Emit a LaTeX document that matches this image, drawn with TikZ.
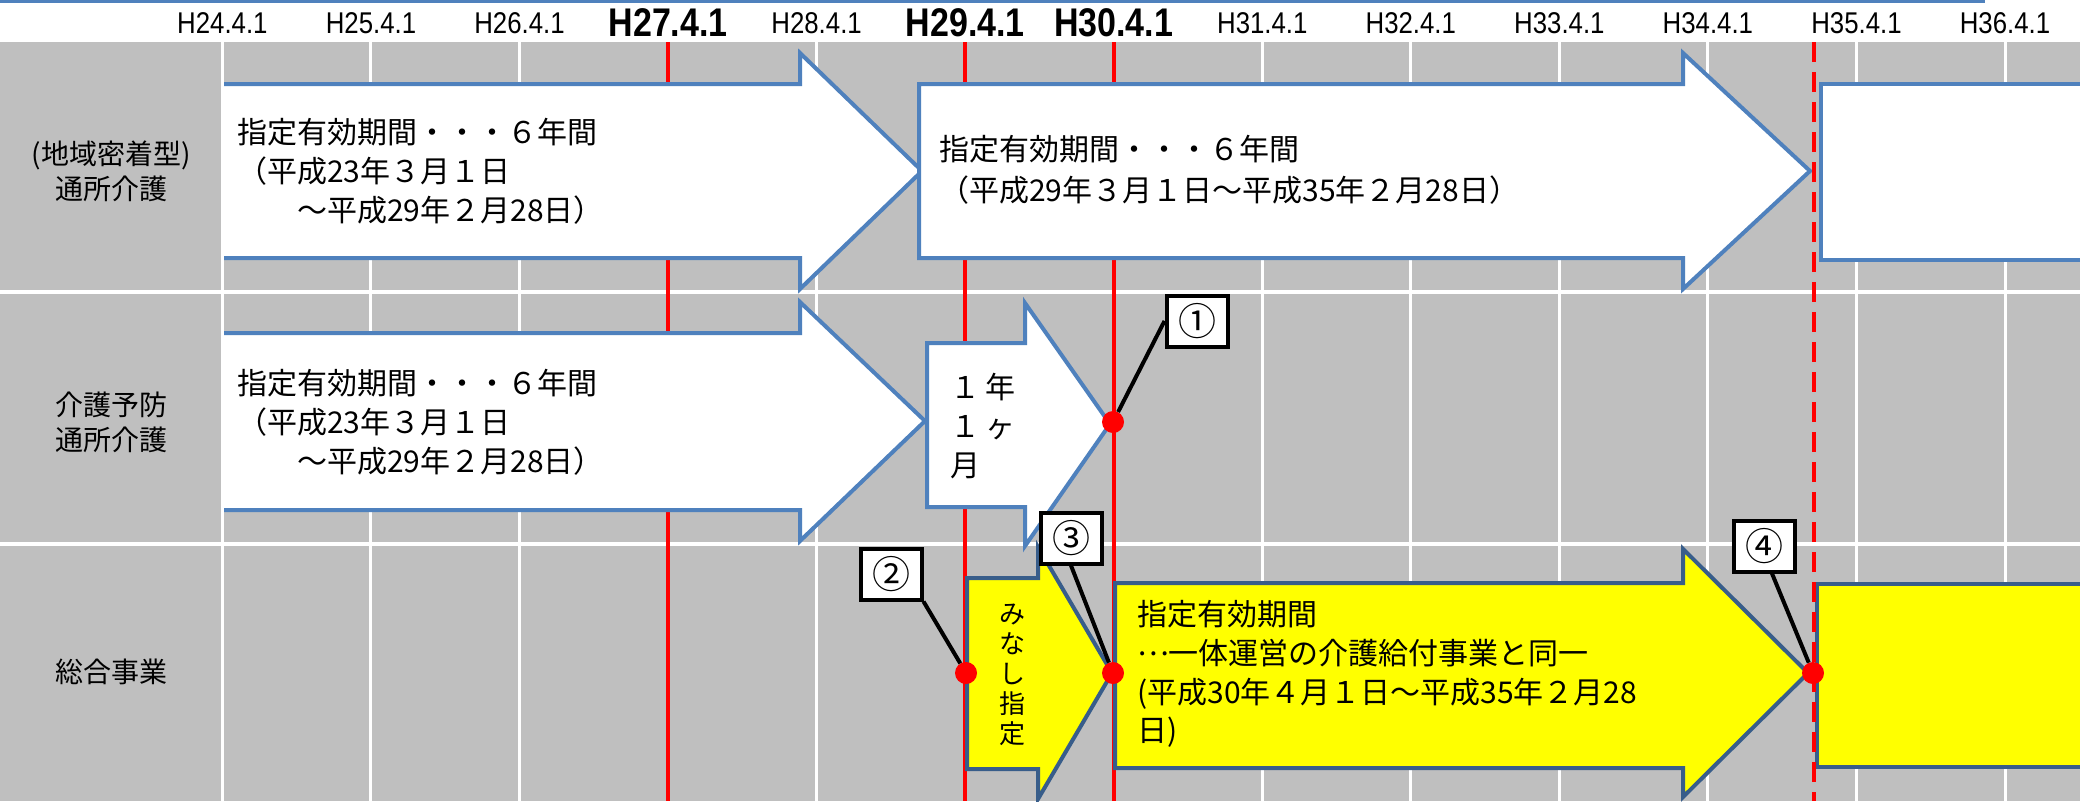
\documentclass[tikz,border=0pt]{standalone}
\usepackage{fontspec}
\setmainfont{Liberation Sans}
\newfontfamily\jp{Noto Sans CJK JP}
\newfontfamily\narrowfont[FakeStretch=0.86]{Liberation Sans}
\newfontfamily\narrowbold[FakeStretch=0.85]{Liberation Sans Bold}
\definecolor{gridgray}{HTML}{BFBFBF}
\definecolor{lblue}{HTML}{4F81BD}
\definecolor{dblue}{HTML}{385D8A}
\definecolor{hyellow}{HTML}{FFFF00}
\definecolor{tred}{HTML}{FF0000}
\begin{document}
\begin{tikzpicture}[x=1pt,y=-1pt,
  yearlbl/.style={font=\narrowfont\fontsize{30}{30}\selectfont, inner sep=0},
  yearbold/.style={font=\narrowbold\fontsize{40}{40}\selectfont, inner sep=0},
  rowlbl/.style={font=\jp\fontsize{28}{35}\selectfont, align=center, inner sep=0},
  arrtxt/.style={font=\jp\fontsize{30}{39}\selectfont, align=left, inner sep=0, anchor=west},
  whitearrow/.style={fill=white, draw=lblue, line width=4pt},
  yellowarrow/.style={fill=hyellow, draw=dblue, line width=4pt},
  gridline/.style={white, line width=3pt},
  redline/.style={tred, line width=4pt},
  numbox/.style={draw=black, fill=white, line width=4pt, minimum width=61pt, minimum height=51pt, font=\jp\fontsize{38}{38}\selectfont, inner sep=0},
  reddot/.style={circle, fill=tred, minimum size=22pt, inner sep=0},
  callout/.style={black, line width=4pt}
]
\useasboundingbox (0,0) rectangle (2080,801);
\fill[white] (0,0) rectangle (2080,801);
\fill[gridgray] (0,42) rectangle (2080,801);
\draw[lblue, line width=3pt] (0,1.5) -- (1985,1.5);
% grid
\draw[gridline, line width=4pt] (0,292) -- (2080,292);
\draw[gridline, line width=4pt] (0,544) -- (2080,544);
\foreach \k in {0,1,2,4,7,8,9,10,11,12}
  \draw[gridline] ({222.4+148.55*\k},42) -- ({222.4+148.55*\k},801);
\foreach \k in {3,5,6}
  \draw[redline] ({222.4+148.55*\k},42) -- ({222.4+148.55*\k},801);
% year labels
\node[yearlbl] (y24) at (222.4,23) {H24.4.1};
\node[yearlbl] (y25) at (371.0,23) {H25.4.1};
\node[yearlbl] (y26) at (519.5,23) {H26.4.1};
\node[yearbold] (y27) at (668.1,23) {H27.4.1};
\node[yearlbl] (y28) at (816.6,23) {H28.4.1};
\node[yearbold] (y29) at (965.2,23) {H29.4.1};
\node[yearbold] (y30) at (1113.7,23) {H30.4.1};
\node[yearlbl] (y31) at (1262.3,23) {H31.4.1};
\node[yearlbl] (y32) at (1410.8,23) {H32.4.1};
\node[yearlbl] (y33) at (1559.4,23) {H33.4.1};
\node[yearlbl] (y34) at (1707.9,23) {H34.4.1};
\node[yearlbl] (y35) at (1856.5,23) {H35.4.1};
\node[yearlbl] (y36) at (2005.0,23) {H36.4.1};
% row labels
\node[rowlbl] (r1) at (111,171) {(地域密着型)\\通所介護};
\node[rowlbl] (r2) at (111,422) {介護予防\\通所介護};
\node[rowlbl] (r3) at (111,672) {総合事業};
% arrows row 1
\draw[whitearrow] (224,84) -- (800,84) -- (800,53) -- (922,171) -- (800,289) -- (800,258) -- (224,258);
\draw[whitearrow] (919,84) -- (1683,84) -- (1683,53) -- (1810,171) -- (1683,289) -- (1683,258) -- (919,258) -- cycle;
\draw[whitearrow] (2090,84) -- (1821,84) -- (1821,260) -- (2090,260);
% arrows row 2
\draw[whitearrow] (224,333) -- (800,333) -- (800,302) -- (925,421) -- (800,541) -- (800,510) -- (224,510);
\draw[whitearrow] (927,343) -- (1025,343) -- (1025,303) -- (1110,424) -- (1025,546) -- (1025,507) -- (927,507) -- cycle;
% arrows row 3
\draw[yellowarrow] (967,578) -- (1038,578) -- (1038,547) -- (1112,673) -- (1038,799) -- (1038,769) -- (967,769) -- cycle;
\draw[yellowarrow] (1115,583) -- (1683,583) -- (1683,549) -- (1808,673) -- (1683,797) -- (1683,768) -- (1115,768) -- cycle;
\draw[yellowarrow] (2090,584) -- (1817,584) -- (1817,767) -- (2090,767);
% texts
\node[arrtxt] (t1) at (237,171) {指定有効期間・・・６年間\\（平成23年３月１日\\　　～平成29年２月28日）};
\node[arrtxt, font=\jp\fontsize{30}{41}\selectfont] (t2) at (939,170) {指定有効期間・・・６年間\\（平成29年３月１日～平成35年２月28日）};
\node[arrtxt] (t3) at (237,422) {指定有効期間・・・６年間\\（平成23年３月１日\\　　～平成29年２月28日）};
\node[arrtxt, font=\jp\fontsize{30}{39}\selectfont] (t4) at (950,426) {１\,年\\１\,ヶ\\月};
\node[arrtxt, font=\jp\fontsize{30}{38.7}\selectfont] (t5) at (1137,674) {指定有効期間\\\raisebox{0.3em}{…}一体運営の介護給付事業と同一\\(平成30年４月１日～平成35年２月28\\日)};
\node[font=\jp\fontsize{26}{30}\selectfont, align=center, inner sep=0] (t6) at (1012,675) {み\\な\\し\\指\\定};
% dashed line
\draw[redline, dash pattern=on 20pt off 10pt] (1814,42) -- (1814,801);
% number boxes
\node[numbox] (b1) at (1197,321) {①};
\node[numbox] (b2) at (891,574) {②};
\node[numbox] (b3) at (1071,538) {③};
\node[numbox] (b4) at (1764,546) {④};
% dots
\node[reddot] (d1) at (1113,422) {};
\node[reddot] (d2) at (966,673) {};
\node[reddot] (d3) at (1113,673) {};
\node[reddot] (d4) at (1813,673) {};
% callouts
\draw[callout] (b1.west) -- (d1);
\draw[callout] (b2.south east) -- (d2);
\draw[callout] (b3.south) -- (d3);
\draw[callout] ([xshift=8pt]b4.south) -- (d4);
\end{tikzpicture}
\end{document}
